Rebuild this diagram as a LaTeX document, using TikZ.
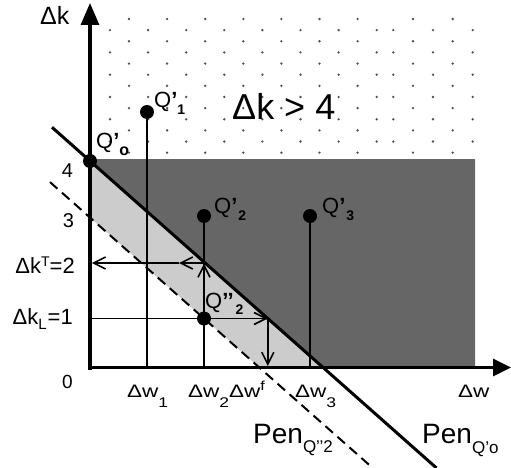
\documentclass[tikz,border=0pt]{standalone}
\usepackage{fontspec}
\setmainfont{Liberation Sans}
\usetikzlibrary{arrows.meta}
\definecolor{darkfill}{HTML}{666666}
\definecolor{lightfill}{HTML}{CCCCCC}
\definecolor{dotcol}{HTML}{505050}
\newcommand\fs[1]{\fontsize{#1}{#1}\selectfont}
\begin{document}
\begin{tikzpicture}[x=1pt,y=-1pt,
  axisline/.style={line width=3.2pt},
  mainline/.style={line width=3pt},
  dashline/.style={line width=2pt,dash pattern=on 10pt off 6pt},
  gridline/.style={line width=1.8pt},
  barb/.style={-{Straight Barb[length=12pt,width=12pt,line width=1.6pt]}},
  pt/.style={circle,fill=black,inner sep=0pt,minimum size=14pt},
  lbl/.style={inner sep=0pt,anchor=base west},
  dotmark/.style={fill=dotcol}]
\useasboundingbox (0,0) rectangle (511,468);
% dotted region
\foreach \i in {0,...,6} {
  \foreach \k in {0,...,6} \fill[dotmark] ({129+38.1*\k},{19+22.28*\i}) circle[radius=1.3pt];
  \foreach \xx in {413,452.7} \fill[dotmark] (\xx,{19+22.28*\i}) circle[radius=1.3pt];
}
\foreach \i in {0,...,5} {
  \foreach \k in {0,...,7} \fill[dotmark] ({110+38.1*\k},{30.14+22.28*\i}) circle[radius=1.3pt];
  \foreach \xx in {393.3,433,472.7} \fill[dotmark] (\xx,{30.14+22.28*\i}) circle[radius=1.3pt];
}
% coordinates
\coordinate (Ytop) at (90,3);
\coordinate (Ybot) at (90,369.5);
\coordinate (Xleft) at (88.5,367.5);
\coordinate (Xend) at (511,367.5);
\coordinate (Ma) at (52,127.3);
\coordinate (Mb) at (436.5,468);
\coordinate (M2) at (205,263);
\coordinate (M1) at (267.8,318.5);
\coordinate (MX) at (323.1,367.5);
\coordinate (Da) at (50,182.1);
\coordinate (Db) at (372.7,468);
\coordinate (DX) at (259.3,367.5);
\coordinate (D0) at (90,217.5);
\coordinate (W1) at (147,367.5);
\coordinate (W2) at (204,367.5);
\coordinate (W3) at (310,367.5);
\coordinate (U2) at (204,263.5);
\coordinate (Mid2) at (179,263);
\coordinate (Y2) at (91.8,263);
\coordinate (Y1) at (90,318.5);
\coordinate (F0) at (267.8,366);
\coordinate (Q0c) at (90,161);
% fills
\fill[darkfill] (90,159) -- (475,159) -- (475,367.5) -- (MX) -- (Q0c) -- cycle;
\fill[lightfill] (Q0c) -- (MX) -- (DX) -- (D0) -- cycle;
% grid lines
\coordinate (Q1c) at (147,112);
\coordinate (Q2c) at (204,216);
\coordinate (Q3c) at (310,216);
\coordinate (Q22c) at (204,318.5);
\draw[gridline] (W1) -- (Q1c);
\draw[gridline] (W2) -- (Q2c);
\draw[gridline] (W3) -- (Q3c);
\draw[gridline,barb] (Q22c) -- (U2);
\draw[gridline,barb] (M2) -- (Mid2);
\draw[gridline,barb] (Mid2) -- (Y2);
\draw[gridline,barb] (Y1) -- (M1);
\draw[gridline,barb] (M1) -- (F0);
% lines
\draw[dashline] (Da) -- (Db);
\draw[mainline] (Ma) -- (Mb);
% axes
\draw[axisline,-{Triangle[length=22pt,width=18pt]}] (Ybot) -- (Ytop);
\draw[axisline,-{Triangle[length=18pt,width=17pt]}] (Xleft) -- (Xend);
% points
\node[pt] (Q0) at (Q0c) {};
\node[pt] (Q1) at (Q1c) {};
\node[pt] (Q2) at (Q2c) {};
\node[pt] (Q3) at (Q3c) {};
\node[pt] (Q22) at (Q22c) {};
% labels
\node[lbl] (tdk) at (40,25) {\fs{25}Δk};
\node[lbl] (tgt) at (232,120) {\fs{36}Δk > 4};
\node[lbl] (tq1) at (154,108) {\fs{22}Q\textbf{’}\raisebox{-7pt}{\fs{14}\bfseries 1}};
\node[lbl] (tq0) at (96,148) {\fs{22}Q\textbf{’}\raisebox{-7pt}{\fs{16}\bfseries o}};
\node[lbl] (tq2) at (214,213) {\fs{22}Q\textbf{’}\kern1pt\raisebox{-7pt}{\fs{14}\bfseries 2}};
\node[lbl] (tq3) at (322,213) {\fs{22}Q\textbf{’}\kern1pt\raisebox{-7pt}{\fs{14}\bfseries 3}};
\node[lbl] (tq22) at (205,308) {\fs{22}Q\textbf{’’}\kern2pt\raisebox{-6pt}{\fs{14}\bfseries 2}};
\node[inner sep=0pt,anchor=base] (t4) at (67.5,177) {\fs{20}4};
\node[inner sep=0pt,anchor=base] (t3) at (68.5,227) {\fs{20}3};
\node[inner sep=0pt,anchor=base] (t0) at (67.5,388) {\fs{19}0};
\node[inner sep=0pt,anchor=base east] (tkT) at (75,273) {\fs{22}Δk\raisebox{7pt}{\fs{14}T}=2};
\node[inner sep=0pt,anchor=base east] (tkL) at (73,324) {\fs{22}Δk\raisebox{-5pt}{\fs{15}L}\kern1pt=1};
\node[lbl] (tw1) at (127,397) {\scalebox{1.25}[1]{\fs{18}Δw\raisebox{-10pt}{\fs{14}1}}};
\node[lbl] (tw2) at (188,397) {\scalebox{1.25}[1]{\fs{18}Δw\raisebox{-10pt}{\fs{14}2}Δw\raisebox{7pt}{\fs{13}f}}};
\node[lbl] (tw3) at (295,397) {\scalebox{1.25}[1]{\fs{18}Δw\raisebox{-10pt}{\fs{14}3}}};
\node[lbl] (tw) at (458,397) {\scalebox{1.25}[1]{\fs{18}Δw}};
\node[lbl] (tp2) at (253,443) {\fs{28}Pen\raisebox{-9pt}{\fs{17}Q’’2}};
\node[lbl] (tp0) at (422,443) {\fs{28}Pen\raisebox{-10pt}{\fs{17}Q’o}};
\end{tikzpicture}
\end{document}
